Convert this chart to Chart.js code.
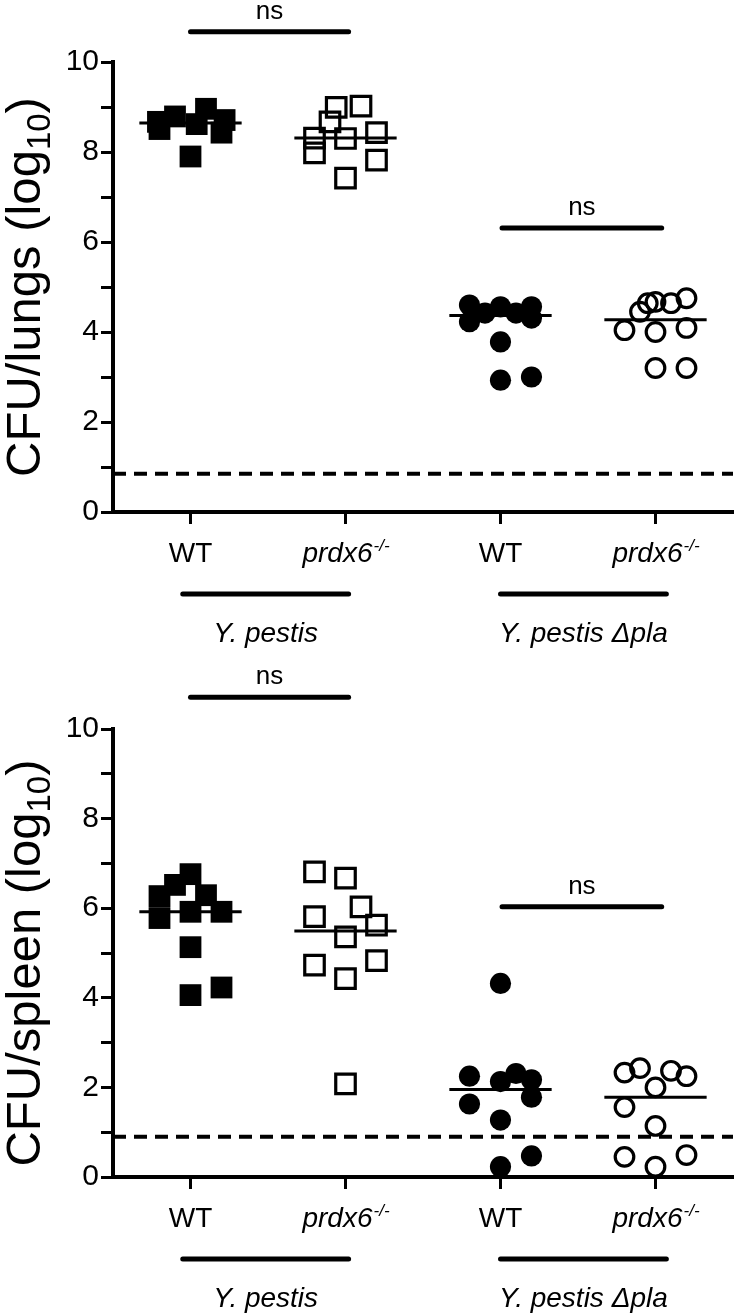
<!DOCTYPE html>
<html>
<head>
<meta charset="utf-8">
<script src="https://cdn.jsdelivr.net/npm/chart.js@4"></script>
<style>
  html, body { margin: 0; padding: 0; background: #fff; }
  canvas { display: block; }
</style>
</head>
<body>
<canvas id="lungChart" width="750" height="656"></canvas>
<canvas id="spleenChart" width="750" height="657"></canvas>
<script>
// categories along x (position 0..3) and the strain groups underneath
const groupLabels = ['WT', 'prdx6', 'WT', 'prdx6'];
const strainLabels = ['Y. pestis', 'Y. pestis Δpla'];
const yTicks = [0, 2, 4, 6, 8, 10];

// lungs, log10 CFU (values + horizontal spread of each dot, in category units)
const lungPestisWT = [8.96, 8.79, 8.67, 8.71, 8.51, 8.43, 7.9, 8.62];
const lungPestisWTx = [0.1, -0.1, -0.21, 0.22, -0.2, 0.2, 0, 0.04];
const lungPestisKO = [8.99, 9.02, 8.67, 8.31, 7.98, 8.3, 8.43, 7.82, 7.42];
const lungPestisKOx = [-0.06, 0.1, -0.1, -0.2, -0.2, 0, 0.2, 0.2, 0];
const lungPlaWT = [4.6, 4.23, 4.42, 4.56, 4.42, 4.56, 4.31, 3.78, 2.93, 3.0];
const lungPlaWTx = [-0.2, -0.2, -0.1, 0, 0.1, 0.2, 0.2, 0, 0, 0.2];
const lungPlaKO = [4.04, 4.45, 4.64, 4.67, 4.0, 4.64, 4.75, 4.09, 3.2, 3.2];
const lungPlaKOx = [-0.2, -0.1, -0.05, 0, 0, 0.1, 0.2, 0.2, 0, 0.2];
const lungLimit = 0.85;

// spleen, log10 CFU
const spleenPestisWT = [6.76, 6.52, 6.27, 6.29, 5.78, 5.92, 5.92, 5.13, 4.06, 4.23];
const spleenPestisWTx = [0, -0.1, -0.2, 0.1, -0.2, 0, 0.2, 0, 0, 0.2];
const spleenPestisKO = [6.81, 6.67, 6.03, 5.81, 5.62, 5.36, 4.73, 4.83, 4.43, 2.08];
const spleenPestisKOx = [-0.2, 0, 0.1, -0.2, 0.2, 0, -0.2, 0.2, 0, 0];
const spleenPlaWT = [4.32, 2.25, 2.13, 2.31, 2.17, 1.63, 1.78, 1.27, 0.47, 0.23];
const spleenPlaWTx = [0, -0.2, 0, 0.1, 0.2, -0.2, 0.2, 0, 0.2, 0];
const spleenPlaKO = [2.33, 2.43, 2.37, 2.25, 2.0, 1.56, 1.14, 0.45, 0.49, 0.23];
const spleenPlaKOx = [-0.2, -0.1, 0.1, 0.2, 0, -0.2, 0, -0.2, 0.2, 0];
const spleenLimit = 0.9;

// "ns" comparison bars: [from, to, level]
const lungNs = [[0, 1.02, 10.67], [2.01, 3.04, 6.31]];
const spleenNs = [[0, 1.02, 10.71], [2.01, 3.04, 6.03]];

const FONT = '"Liberation Sans", Arial, Helvetica, sans-serif';

function median(a) {
    const s = [...a].sort((p, q) => p - q);
    const m = s.length >> 1;
    return s.length % 2 ? s[m] : (s[m - 1] + s[m]) / 2;
}

// one group of dots + its median line
function groupSets(values, spread, idx, shape, filled) {
    const med = median(values);
    return [
        {
            type: 'scatter',
            data: values.map((v, i) => ({ x: idx + spread[i], y: v })),
            pointStyle: shape,
            pointRadius: shape === 'rect' ? (filled ? 15.4 : 13.8) : (filled ? 10.6 : 9.3),
            backgroundColor: filled ? '#000' : 'rgba(0,0,0,0)',
            borderColor: '#000',
            borderWidth: filled ? 0 : 3.2,
            clip: false
        },
        {
            type: 'line',
            data: [{ x: idx - 0.33, y: med }, { x: idx + 0.33, y: med }],
            borderColor: '#000',
            borderWidth: 3,
            pointRadius: 0,
            clip: false
        }
    ];
}

function lineSet(pts, width, dash, cap) {
    return {
        type: 'line',
        data: pts,
        borderColor: '#000',
        borderWidth: width,
        borderDash: dash || [],
        borderCapStyle: cap || 'butt',
        pointRadius: 0,
        clip: false
    };
}

// texts and strain bars drawn on top, placed with the chart scales
const decoPlugin = {
    id: 'deco',
    afterDraw(chart, args, opts) {
        const ctx = chart.ctx;
        const xs = chart.scales.x, ys = chart.scales.y;
        const area = chart.chartArea;
        ctx.save();
        ctx.fillStyle = '#000';
        ctx.strokeStyle = '#000';
        ctx.textBaseline = 'alphabetic';

        // y title with subscript
        ctx.save();
        ctx.translate(40, (area.top + area.bottom) / 2 + opts.titleShift);
        ctx.rotate(-Math.PI / 2);
        const big = '49px ' + FONT, small = '33px ' + FONT;
        ctx.font = big;
        const w1 = ctx.measureText(opts.title).width, w3 = ctx.measureText(')').width;
        ctx.font = small;
        const w2 = ctx.measureText('10').width;
        let x = -(w1 + w2 + w3) / 2;
        ctx.textAlign = 'left';
        ctx.font = big; ctx.fillText(opts.title, x, 0); x += w1;
        ctx.font = small; ctx.fillText('10', x, 10); x += w2;
        ctx.font = big; ctx.fillText(')', x, 0);
        ctx.restore();

        // category labels
        const base = area.bottom + 50;
        groupLabels.forEach((lab, i) => {
            const px = xs.getPixelForValue(i);
            if (lab === 'WT') {
                ctx.font = '28px ' + FONT;
                ctx.textAlign = 'center';
                ctx.fillText(lab, px, base);
            } else {
                ctx.font = 'italic 28px ' + FONT;
                const wa = ctx.measureText(lab).width;
                ctx.font = 'italic 17px ' + FONT;
                const wb = ctx.measureText('-/-').width;
                let sx = px - (wa + wb) / 2;
                ctx.textAlign = 'left';
                ctx.font = 'italic 28px ' + FONT;
                ctx.fillText(lab, sx, base);
                ctx.font = 'italic 17px ' + FONT;
                ctx.fillText('-/-', sx + wa + 1, base - 11);
            }
        });

        // strain bars + labels
        const spans = [[-0.05, 1.02], [2.0, 3.07]];
        ctx.lineWidth = 5;
        ctx.lineCap = 'round';
        spans.forEach((s, i) => {
            const a = xs.getPixelForValue(s[0]), b = xs.getPixelForValue(s[1]);
            const yb = area.bottom + 82;
            ctx.beginPath(); ctx.moveTo(a, yb); ctx.lineTo(b, yb); ctx.stroke();
            ctx.font = 'italic 28px ' + FONT;
            ctx.textAlign = 'center';
            ctx.fillText(strainLabels[i], (a + b) / 2, area.bottom + 130);
        });

        // ns
        ctx.font = '26px ' + FONT;
        ctx.textAlign = 'center';
        opts.ns.forEach(n => {
            const px = (xs.getPixelForValue(n[0]) + xs.getPixelForValue(n[1])) / 2;
            ctx.fillText('ns', px, ys.getPixelForValue(n[2]) - 13);
        });
        ctx.restore();
    }
};

function makeChart(id, sets, limit, ns, title, height, top, titleShift, chartBottom) {
    const datasets = [
        ...groupSets(sets[0][0], sets[0][1], 0, 'rect', true),
        ...groupSets(sets[1][0], sets[1][1], 1, 'rect', false),
        ...groupSets(sets[2][0], sets[2][1], 2, 'circle', true),
        ...groupSets(sets[3][0], sets[3][1], 3, 'circle', false),
        lineSet([{ x: -0.5, y: limit }, { x: 3.5, y: limit }], 4, [13, 8]),
        ...ns.map(n => lineSet([{ x: n[0], y: n[2] }, { x: n[1], y: n[2] }], 5, [], 'round'))
    ];
    return new Chart(document.getElementById(id).getContext('2d'), {
        type: 'scatter',
        data: { datasets },
        options: {
            responsive: false,
            animation: false,
            events: [],
            devicePixelRatio: 1,
            layout: { padding: { top: top, right: 5, left: 0, bottom: 0 } },
            plugins: {
                legend: { display: false },
                tooltip: { enabled: false },
                deco: { title: title, ns: ns, titleShift: titleShift }
            },
            scales: {
                x: {
                    type: 'linear',
                    min: -0.5, max: 3.5,
                    afterBuildTicks: s => { s.ticks = [0, 1, 2, 3].map(v => ({ value: v })); },
                    afterFit: s => { s.height = height - chartBottom; },
                    ticks: { callback: () => '' },
                    grid: { drawOnChartArea: false, tickLength: 12, tickWidth: 3, tickColor: '#000', color: '#000' },
                    border: { display: true, width: 4, color: '#000' }
                },
                y: {
                    min: 0, max: 10,
                    afterFit: s => { s.width = 113; },
                    ticks: {
                        stepSize: 1,
                        padding: 2,
                        color: '#000',
                        font: { family: FONT, size: 30 },
                        callback: v => yTicks.includes(v) ? String(v) : ''
                    },
                    grid: { drawOnChartArea: false, tickLength: 12, tickWidth: 3, tickColor: '#000', color: '#000' },
                    border: { display: true, width: 4, color: '#000' }
                }
            }
        },
        plugins: [decoPlugin]
    });
}

makeChart('lungChart',
    [[lungPestisWT, lungPestisWTx], [lungPestisKO, lungPestisKOx], [lungPlaWT, lungPlaWTx], [lungPlaKO, lungPlaKOx]],
    lungLimit, lungNs, 'CFU/lungs (log', 656, 62, 0, 512);

makeChart('spleenChart',
    [[spleenPestisWT, spleenPestisWTx], [spleenPestisKO, spleenPestisKOx], [spleenPlaWT, spleenPlaWTx], [spleenPlaKO, spleenPlaKOx]],
    spleenLimit, spleenNs, 'CFU/spleen (log', 657, 73, 10, 521);
</script>
</body>
</html>
